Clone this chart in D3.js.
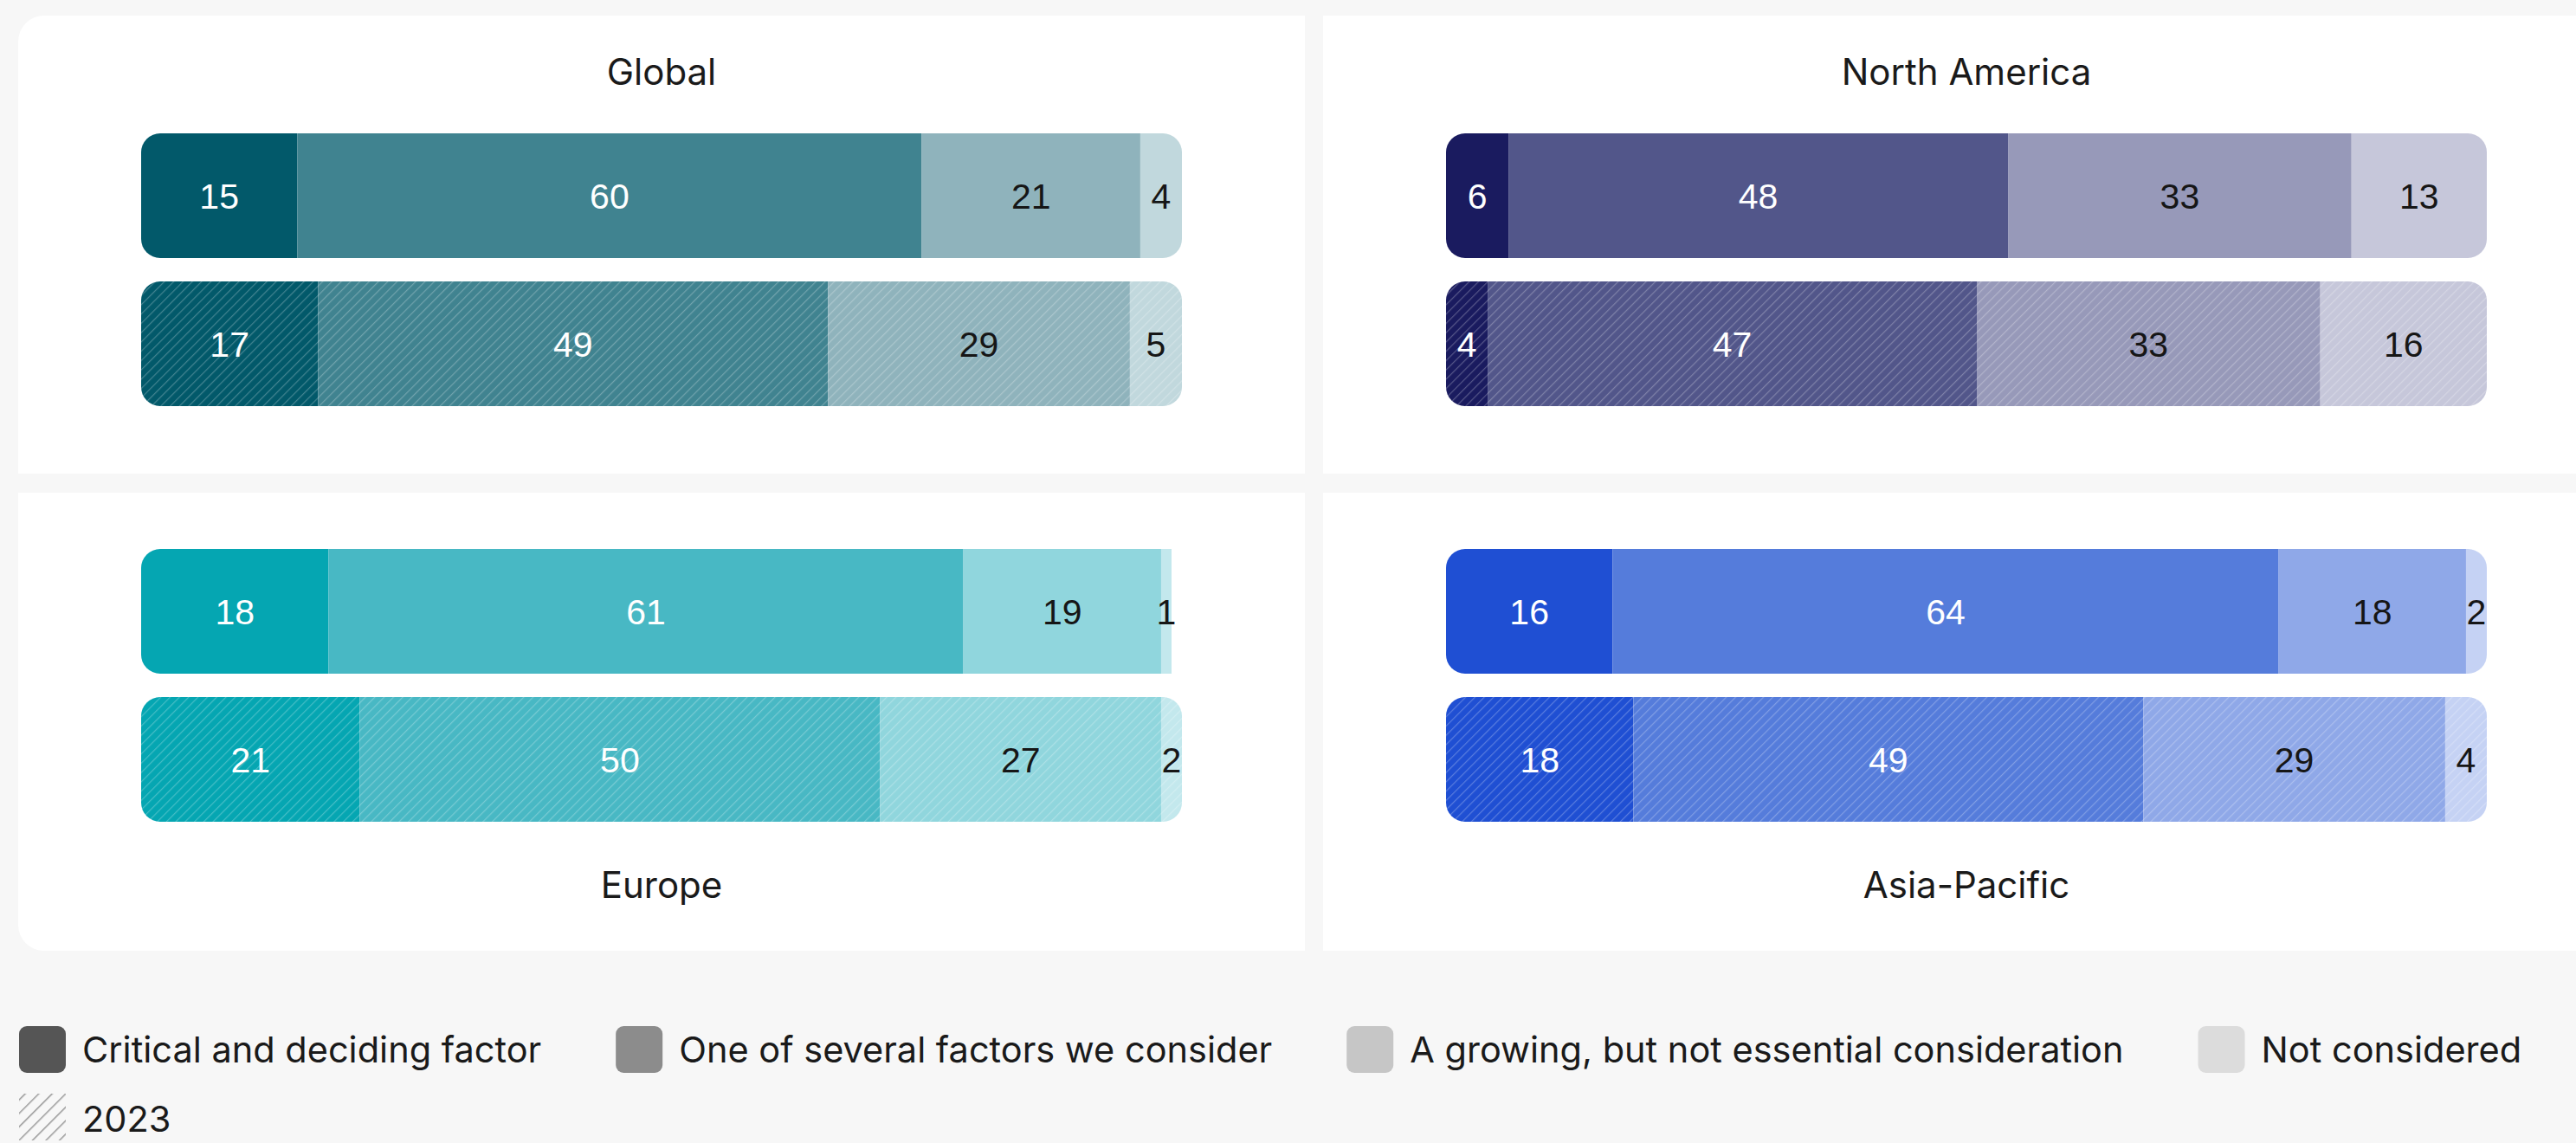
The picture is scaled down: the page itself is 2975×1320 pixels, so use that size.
<!DOCTYPE html>
<html>
<head>
<meta charset="utf-8">
<script src="https://cdn.jsdelivr.net/npm/d3@7"></script>
<style>
  html, body { margin: 0; padding: 0; background: #f7f7f7; }
  svg { display: block; }
</style>
</head>
<body>
<svg id="chart" width="2975" height="1320"></svg>
<script>
// Survey responses by region: the plain bar is the current year, the hatched bar is 2023.
const regions = ["Global", "North America", "Europe", "Asia-Pacific"];
const categories = [
  "Critical and deciding factor",
  "One of several factors we consider",
  "A growing, but not essential consideration",
  "Not considered"
];
const currentValues = [
  [15, 60, 21, 4],
  [6, 48, 33, 13],
  [18, 61, 19, 1],
  [16, 64, 18, 2]
];
const values2023 = [
  [17, 49, 29, 5],
  [4, 47, 33, 16],
  [21, 50, 27, 2],
  [18, 49, 29, 4]
];
const hatchLabel = "2023";

// Colour ramps per region (darkest = first category)
const regionColors = [
  ["#02596a", "#408390", "#8fb3bc", "#c1d8dd"],
  ["#1a1b5f", "#52568a", "#9799b9", "#c6c7da"],
  ["#05a6b2", "#48b8c4", "#90d6dd", "#c3e8ed"],
  ["#1f4fd3", "#557cdb", "#8fa8e8", "#c5d2f4"]
];
const legendColors = ["#555555", "#8c8c8c", "#c6c6c6", "#dcdcdc"];
const labelColors = ["#ffffff", "#ffffff", "#161616", "#161616"];

const textFont = "Inter, 'Noto Sans', sans-serif";
const numFont = "'Liberation Sans', Arial, sans-serif";

const svg = d3.select("#chart");
const defs = svg.append("defs");

// Diagonal hatch used on the 2023 bars
defs.append("pattern")
  .attr("id", "hatch")
  .attr("patternUnits", "userSpaceOnUse")
  .attr("width", 7.6).attr("height", 7.6)
  .attr("patternTransform", "rotate(45)")
  .append("line")
  .attr("x1", 0).attr("y1", 0).attr("x2", 0).attr("y2", 7.6)
  .attr("stroke", "#ffffff").attr("stroke-opacity", 0.26).attr("stroke-width", 2.4);

// Coarser grey hatch for the legend swatch
defs.append("pattern")
  .attr("id", "hatchLegend")
  .attr("patternUnits", "userSpaceOnUse")
  .attr("width", 11).attr("height", 11)
  .attr("patternTransform", "rotate(45)")
  .append("line")
  .attr("x1", 0).attr("y1", 0).attr("x2", 0).attr("y2", 11)
  .attr("stroke", "#9a9a9a").attr("stroke-width", 3);

// Panel grid
const gridX = 21, gridY = 18, panelW = 1486, panelH = 529, gapX = 21, gapY = 22, outerR = 30;
const barInset = 142, barW = panelW - 2 * barInset, barH = 144, barR = 22;

const x = d3.scaleLinear().domain([0, 100]).range([0, barW]);

function roundedPath(x0, y0, w, h, tl, tr, br, bl) {
  return `M${x0 + tl},${y0}` +
    ` H${x0 + w - tr}` + (tr ? ` A${tr},${tr} 0 0 1 ${x0 + w},${y0 + tr}` : "") +
    ` V${y0 + h - br}` + (br ? ` A${br},${br} 0 0 1 ${x0 + w - br},${y0 + h}` : "") +
    ` H${x0 + bl}` + (bl ? ` A${bl},${bl} 0 0 1 ${x0},${y0 + h - bl}` : "") +
    ` V${y0 + tl}` + (tl ? ` A${tl},${tl} 0 0 1 ${x0 + tl},${y0}` : "") + " Z";
}

regions.forEach((region, i) => {
  const col = i % 2, row = Math.floor(i / 2);
  const px = gridX + col * (panelW + gapX);
  const py = gridY + row * (panelH + gapY);
  const g = svg.append("g").attr("transform", `translate(${px},${py})`);

  // Only the outer corners of the 2x2 grid are rounded
  const tl = (col === 0 && row === 0) ? outerR : 0;
  const tr = (col === 1 && row === 0) ? outerR : 0;
  const br = (col === 1 && row === 1) ? outerR : 0;
  const bl = (col === 0 && row === 1) ? outerR : 0;
  g.append("path").attr("d", roundedPath(0, 0, panelW, panelH, tl, tr, br, bl)).attr("fill", "#ffffff");

  // Title above for the top row, below for the bottom row
  g.append("text")
    .attr("x", panelW / 2)
    .attr("y", row === 0 ? 80 : 468)
    .attr("text-anchor", "middle")
    .attr("font-family", textFont)
    .attr("font-size", 42)
    .attr("fill", "#1a1a1a")
    .text(region);

  const y = d3.scaleBand()
    .domain(["current", "2023"])
    .range(row === 0 ? [136, 136 + 2 * barH + 27] : [65, 65 + 2 * barH + 27])
    .paddingInner(27 / (barH + 27));

  [["current", currentValues[i]], ["2023", values2023[i]]].forEach(([key, vals]) => {
    const starts = [0, ...d3.cumsum(vals)].slice(0, vals.length);
    const segs = vals.map((v, k) => ({ v, k, start: starts[k] }));
    const by = y(key);
    const bg = g.append("g").attr("transform", `translate(${barInset},0)`);

    const pathFor = d => {
      const sx = x(d.start), w = x(d.v);
      const rl = d.k === 0 ? Math.min(barR, w) : 0;
      const rr = d.k === vals.length - 1 && w >= barR ? barR : 0;
      return roundedPath(sx, by, w, y.bandwidth(), rl, rr, rr, rl);
    };

    bg.selectAll("path.seg").data(segs).join("path")
      .attr("class", "seg")
      .attr("d", pathFor)
      .attr("fill", d => regionColors[i][d.k]);

    if (key === "2023") {
      bg.selectAll("path.hatch").data(segs).join("path")
        .attr("class", "hatch")
        .attr("d", pathFor)
        .attr("fill", "url(#hatch)");
    }

    bg.selectAll("text").data(segs).join("text")
      .attr("x", d => x(d.start + d.v / 2))
      .attr("y", by + y.bandwidth() / 2)
      .attr("dy", "0.36em")
      .attr("text-anchor", "middle")
      .attr("font-family", numFont)
      .attr("font-size", 41)
      .attr("fill", d => labelColors[d.k])
      .text(d => d.v);
  });
});

// Legend
const legend = svg.append("g");
const sw = 54;
let lx = 22;
categories.forEach((c, k) => {
  legend.append("rect")
    .attr("x", lx).attr("y", 1185).attr("width", sw).attr("height", sw)
    .attr("rx", 9).attr("fill", legendColors[k]);
  const t = legend.append("text")
    .attr("x", lx + sw + 19).attr("y", 1212)
    .attr("dy", "0.35em")
    .attr("font-family", textFont)
    .attr("font-size", 41.5)
    .attr("fill", "#1a1a1a")
    .text(c);
  lx += sw + 19 + t.node().getComputedTextLength() + 86;
});
legend.append("rect")
  .attr("x", 22).attr("y", 1263).attr("width", sw).attr("height", sw)
  .attr("fill", "url(#hatchLegend)");
legend.append("text")
  .attr("x", 22 + sw + 19).attr("y", 1292)
  .attr("dy", "0.35em")
  .attr("font-family", textFont)
  .attr("font-size", 41.5)
  .attr("fill", "#1a1a1a")
  .text(hatchLabel);
</script>
</body>
</html>
